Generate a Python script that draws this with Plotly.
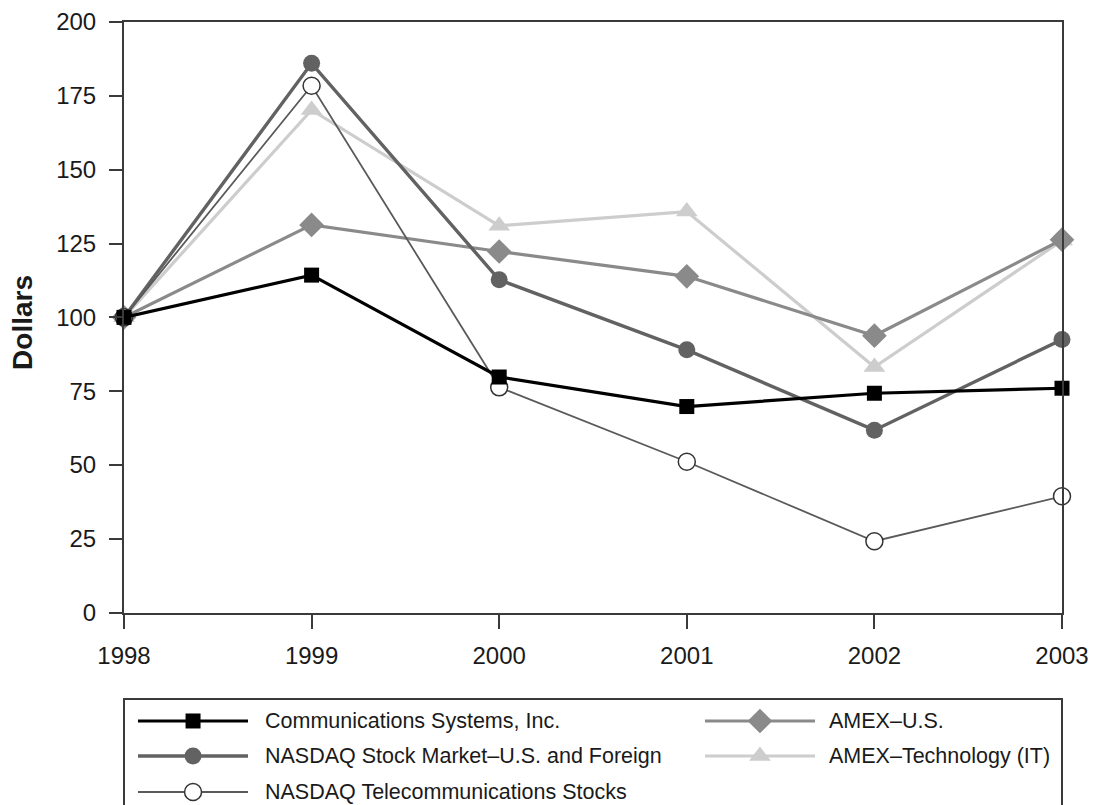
import plotly.graph_objects as go

# ---------------- data ----------------
years = [1998, 1999, 2000, 2001, 2002, 2003]
comm_sys = [100, 114.3, 79.8, 69.8, 74.3, 76.0]
nasdaq_stock = [100, 186.0, 112.7, 89.0, 61.8, 92.5]
nasdaq_telecom = [100, 178.4, 76.3, 51.1, 24.2, 39.4]
amex_us = [100, 131.3, 122.3, 113.9, 93.8, 126.3]
amex_tech = [100, 170.2, 131.0, 135.8, 83.2, 126.0]
y_ticks = [0, 25, 50, 75, 100, 125, 150, 175, 200]

names = {
    "comm": "Communications Systems, Inc.",
    "nasdaq": "NASDAQ Stock Market\u2013U.S. and Foreign",
    "telecom": "NASDAQ Telecommunications Stocks",
    "amexus": "AMEX\u2013U.S.",
    "amextech": "AMEX\u2013Technology (IT)",
}

# ---------------- styles ----------------
FONT = "Liberation Sans, Arial, sans-serif"
AX = "#3a3a3a"
TXT = "#1a1a1a"
styles = {
    "amextech": dict(color="#cdcdcd", width=3.2, symbol="triangle-up", size=19,
                     fill="#cdcdcd", lw=0, lc="#cdcdcd"),
    "amexus": dict(color="#8a8a8a", width=3.2, symbol="diamond", size=19,
                   fill="#8a8a8a", lw=0, lc="#8a8a8a"),
    "nasdaq": dict(color="#626262", width=3.4, symbol="circle", size=17,
                   fill="#626262", lw=0, lc="#626262"),
    "telecom": dict(color="#5a5a5a", width=1.8, symbol="circle", size=17,
                    fill="white", lw=1.5, lc="#333333"),
    "comm": dict(color="#000000", width=3.2, symbol="square", size=15,
                 fill="#000000", lw=0, lc="#000000"),
}
series = {
    "amextech": amex_tech,
    "amexus": amex_us,
    "nasdaq": nasdaq_stock,
    "telecom": nasdaq_telecom,
    "comm": comm_sys,
}
draw_order = ["amextech", "amexus", "nasdaq", "telecom", "comm"]

fig = go.Figure()
for key in draw_order:
    s = styles[key]
    fig.add_trace(go.Scatter(
        x=years, y=series[key], name=names[key], mode="lines+markers",
        line=dict(color=s["color"], width=s["width"]),
        marker=dict(symbol=s["symbol"], size=s["size"], color=s["fill"],
                    line=dict(width=s["lw"], color=s["lc"])),
        cliponaxis=False, showlegend=False,
        xaxis="x", yaxis="y",
    ))

# ---------------- custom legend (paper-like axis x2/y2) ----------------
col1 = (0.0149, 0.0736, 0.1322, 0.1482)
col2 = (0.6194, 0.6780, 0.7367, 0.7495)
rows = [0.1073, 0.0626, 0.0166]
legend_items = [
    ("comm", col1, rows[0]),
    ("amexus", col2, rows[0]),
    ("nasdaq", col1, rows[1]),
    ("amextech", col2, rows[1]),
    ("telecom", col1, rows[2]),
]
annotations = []
for key, col, ry in legend_items:
    s = styles[key]
    fig.add_trace(go.Scatter(
        x=[col[0], col[2]], y=[ry, ry], mode="lines",
        line=dict(color=s["color"], width=s["width"]),
        xaxis="x2", yaxis="y2", showlegend=False, hoverinfo="skip",
        cliponaxis=False,
    ))
    fig.add_trace(go.Scatter(
        x=[col[1]], y=[ry], mode="markers",
        marker=dict(symbol=s["symbol"], size=s["size"], color=s["fill"],
                    line=dict(width=s["lw"], color=s["lc"])),
        xaxis="x2", yaxis="y2", showlegend=False, hoverinfo="skip",
        cliponaxis=False,
    ))
    annotations.append(dict(
        x=col[3], y=ry, xref="x2", yref="y2", text=names[key],
        showarrow=False, xanchor="left", yanchor="middle",
        font=dict(family=FONT, size=21.5, color=TXT),
    ))

# y-axis title
annotations.append(dict(
    x=-0.1077, y=0.6169, xref="paper", yref="paper", text="<b>Dollars</b>",
    textangle=-90, showarrow=False, xanchor="center", yanchor="middle",
    font=dict(family=FONT, size=28, color=TXT),
))

MAIN_BOTTOM = 0.2456
LEG_TOP = 0.2

fig.update_layout(
    width=1093, height=805, autosize=False,
    margin=dict(l=124, r=31, t=22, b=0, pad=0, autoexpand=False),
    paper_bgcolor="white", plot_bgcolor="white",
    font=dict(family=FONT, color=TXT),
    xaxis=dict(
        domain=[0, 1], range=[1998, 2003], tickmode="array", tickvals=years,
        ticktext=[str(y) for y in years], automargin=False,
        showgrid=False, zeroline=False, showline=True, linecolor=AX,
        linewidth=2, mirror=True, ticks="outside", ticklen=14, tickwidth=2,
        tickcolor=AX, tickfont=dict(size=24, family=FONT, color=TXT),
        ticklabelstandoff=7, anchor="y", fixedrange=True,
    ),
    yaxis=dict(
        domain=[MAIN_BOTTOM, 1], range=[0, 200], tickmode="array",
        tickvals=y_ticks, showgrid=False, zeroline=False, showline=True,
        linecolor=AX, linewidth=2, mirror=True, ticks="outside", ticklen=13,
        tickwidth=2, tickcolor=AX, automargin=False,
        tickfont=dict(size=24, family=FONT, color=TXT),
        ticklabelstandoff=8, anchor="x", fixedrange=True,
    ),
    xaxis2=dict(domain=[0, 1], range=[0, 1], visible=False, anchor="y2",
                fixedrange=True, automargin=False),
    yaxis2=dict(domain=[0, LEG_TOP], range=[0, LEG_TOP], visible=False,
                anchor="x2", fixedrange=True, automargin=False),
    annotations=annotations,
    shapes=[dict(type="rect", xref="paper", yref="paper", x0=0, x1=1,
                 y0=-0.02, y1=0.1354, line=dict(color=AX, width=2),
                 fillcolor="rgba(0,0,0,0)", layer="below")],
)

fig.write_html(
    "out.html",
    config={"displayModeBar": False, "responsive": False},
    post_script="document.body.style.margin='0';document.body.style.overflow='hidden';",
)
